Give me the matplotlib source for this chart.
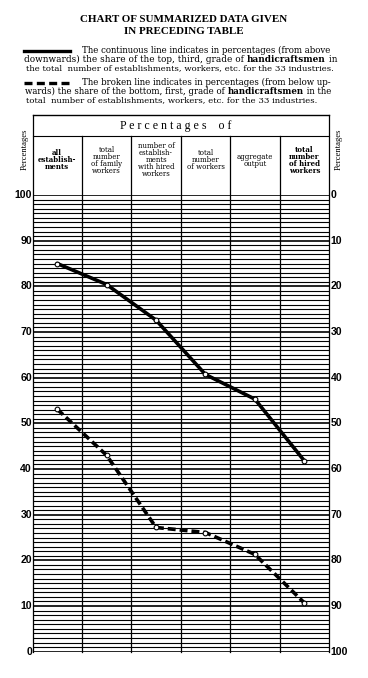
import matplotlib
matplotlib.use("Agg")
import matplotlib.pyplot as plt
from matplotlib.lines import Line2D

plt.rcParams['font.family'] = ['Liberation Serif', 'DejaVu Serif']

columns = [
    "all\nestablish-\nments",
    "total\nnumber\nof family\nworkers",
    "number of\nestablish-\nments\nwith hired\nworkers",
    "total\nnumber\nof workers",
    "aggregate\noutput",
    "total\nnumber\nof hired\nworkers",
]
bold_columns = [True, False, False, False, False, True]
top_grade = [85.0, 80.4, 72.6, 60.7, 55.3, 41.8]
bottom_grade = [53.1, 43.0, 27.2, 26.1, 21.3, 10.7]
left_ticks = [0, 10, 20, 30, 40, 50, 60, 70, 80, 90, 100]

W, H = 368, 678
fig = plt.figure(figsize=(W / 100, H / 100), dpi=100)
fig.patch.set_facecolor("white")


def fx(px):
    return px / W


def fy(py):
    return 1 - py / H


# main chart
ax = fig.add_axes([fx(32.5), fy(651.7), fx(329) - fx(32.5), fy(195) - fy(651.7)])
ax.set_xlim(0, 6)
ax.set_ylim(0, 100)
ax.axis("off")

for v in range(0, 101):
    ax.axhline(v, color="black", lw=1.2 if v % 10 == 0 else 0.8, zorder=1)
for i in range(7):
    top = 117.5 if i in (0, 6) else 112.9
    ax.plot([i, i], [0, top], color="black", lw=0.9, clip_on=False, zorder=1)
ax.plot([0, 6], [117.5, 117.5], color="black", lw=1.0, clip_on=False)
ax.plot([0, 6], [112.9, 112.9], color="black", lw=0.8, clip_on=False)

ax.text(2.9, 115.2, "P e r c e n t a g e s    o f", ha="center", va="center", fontsize=8.6)
for i, (lab, b) in enumerate(zip(columns, bold_columns)):
    ax.text(i + 0.5, 107.6, lab, ha="center", va="center", fontsize=5.0,
            fontweight="bold" if b else "normal", linespacing=0.85,
            family=["DejaVu Serif"])

xs = [i + 0.5 for i in range(6)]
ax.plot(xs, top_grade, color="black", lw=2.6, zorder=3, solid_capstyle="round")
ax.plot(xs, bottom_grade, color="black", lw=2.6, zorder=3, dashes=(2.2, 1.1))
ax.plot(xs, top_grade, "o", ms=3.4, mfc="white", mec="black", mew=0.8, zorder=4)
ax.plot(xs, bottom_grade, "o", ms=3.4, mfc="white", mec="black", mew=0.8, zorder=4)

for v in left_ticks:
    ax.text(-0.01, v, str(v), ha="right", va="center", fontsize=7.6,
            fontweight="bold", family=["Liberation Sans", "DejaVu Sans"])
    ax.text(6.03, v, str(100 - v), ha="left", va="center", fontsize=7.6,
            fontweight="bold", family=["Liberation Sans", "DejaVu Sans"])

ax.text(-0.16, 110, "Percentages", rotation=90, ha="center", va="center", fontsize=6.2)
ax.text(6.2, 110, "Percentages", rotation=90, ha="center", va="center", fontsize=6.2)

# title
fig.text(0.5, fy(19), "CHART OF SUMMARIZED DATA GIVEN", ha="center", va="center",
         fontsize=7.9, fontweight="bold")
fig.text(0.5, fy(32), "IN PRECEDING TABLE", ha="center", va="center",
         fontsize=7.9, fontweight="bold")

# explanation lines with mixed weight, fitted to the printed width
fig.canvas.draw()
renderer = fig.canvas.get_renderer()


def text_run(x_px, x_end, y_px, pieces, size=6.0):
    texts = []
    for s, b in pieces:
        texts.append(fig.text(0, fy(y_px), s, ha="left", va="center", fontsize=size,
                              fontweight="bold" if b else "normal",
                              family=["DejaVu Serif"]))
    width = sum(t.get_window_extent(renderer).width for t in texts)
    new = size * (x_end - x_px) / width
    x = x_px
    for t in texts:
        t.set_fontsize(new)
        t.set_x(fx(x))
        x += t.get_window_extent(renderer).width


text_run(82, 334, 50, [("The continuous line indicates in percentages (from above", False)])
text_run(24, 334, 59, [("downwards) the share of the top, third, grade of ", False),
                       ("handicraftsmen", True), (" in", False)])
text_run(26, 333, 68, [("the total  number of establishments, workers, etc. for the 33 industries.", False)])
text_run(82, 334, 82, [("The broken line indicates in percentages (from below up-", False)])
text_run(25, 335, 91, [("wards) the share of the bottom, first, grade of ", False),
                       ("handicraftsmen", True), (" in the", False)])
text_run(26, 318, 100, [("total  number of establishments, workers, etc. for the 33 industries.", False)])

fig.add_artist(Line2D([fx(24), fx(70)], [fy(51), fy(51)], color="black", lw=2.4))
fig.add_artist(Line2D([fx(24), fx(72)], [fy(83), fy(83)], color="black", lw=2.4,
                      dashes=(2.4, 1.3)))

fig.savefig("out.png", dpi=100, facecolor="white")
